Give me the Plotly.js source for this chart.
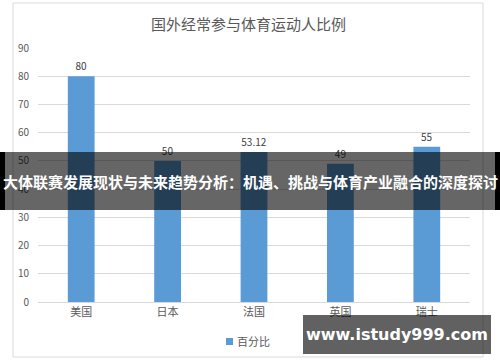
<!DOCTYPE html>
<html><head><meta charset="utf-8">
<script src="https://cdn.plot.ly/plotly-3.0.1.min.js"></script>
<style>html,body{margin:0;padding:0;background:#fff;}#c{width:500px;height:362px;}</style>
</head><body><div id="c"></div>
<script>
const categories = ["美国","日本","法国","英国","瑞士"];
const values = [80, 50, 53.12, 49, 55];
const valueLabels = ["80","50","53.12","49","55"];
const seriesName = "百分比";
const chartTitle = "国外经常参与体育运动人比例";
const bannerText = "大体联赛发展现状与未来趋势分析：机遇、挑战与体育产业融合的深度探讨";
const watermarkText = "www.istudy999.com";

const W = 500, H = 362;
const M = {l: 38, r: 30, t: 48, b: 60};
const pw = W - M.l - M.r, ph = H - M.t - M.b;
const px = x => (x - M.l) / pw;
const py = y => (H - M.b - y) / ph;
const font = "'Noto Sans CJK SC', 'Noto Sans', sans-serif";

const trace = {
  type: 'bar', x: categories, y: values, name: seriesName,
  marker: {color: '#5B9BD5'},
  text: valueLabels, textposition: 'outside', cliponaxis: false,
  textfont: {size: 10, color: '#404040', family: font},
  hoverinfo: 'none'
};

const layout = {
  width: W, height: H, margin: M,
  paper_bgcolor: '#fff', plot_bgcolor: '#fff',
  showlegend: false, bargap: 0.69,
  font: {family: font, color: '#595959'},
  xaxis: {showgrid: false, showline: true, linecolor: '#D9D9D9', linewidth: 1,
    ticks: '', tickfont: {size: 11, color: '#595959'}, fixedrange: true},
  yaxis: {range: [0, 90], dtick: 10, showgrid: true, gridcolor: '#D9D9D9', gridwidth: 1,
    zeroline: false, showline: false, ticks: '', tickfont: {size: 10, color: '#595959'},
    ticklabelstandoff: 8, fixedrange: true},
  shapes: [
    {type: 'rect', xref: 'paper', yref: 'paper', x0: px(13), x1: px(483), y0: py(3), y1: py(357),
      line: {color: '#D9D9D9', width: 1}, fillcolor: 'rgba(0,0,0,0)', layer: 'below'},
    {type: 'rect', xref: 'paper', yref: 'paper', x0: px(226), x1: px(233), y0: py(338), y1: py(345),
      line: {width: 0}, fillcolor: '#5B9BD5'},
    {type: 'rect', xref: 'paper', yref: 'paper', x0: px(0), x1: px(500), y0: py(152), y1: py(210),
      line: {width: 0}, fillcolor: 'rgba(0,0,0,0.6)', layer: 'above'},
    {type: 'rect', xref: 'paper', yref: 'paper', x0: px(0), x1: px(5), y0: py(152), y1: py(210),
      line: {width: 0}, fillcolor: '#000', layer: 'above'},
    {type: 'rect', xref: 'paper', yref: 'paper', x0: px(495), x1: px(500), y0: py(152), y1: py(210),
      line: {width: 0}, fillcolor: '#000', layer: 'above'},
    {type: 'rect', xref: 'paper', yref: 'paper', x0: px(303), x1: px(491), y0: py(315), y1: py(354),
      line: {width: 0}, fillcolor: 'rgba(0,0,0,0.62)', layer: 'above'}
  ],
  annotations: [
    {text: chartTitle, xref: 'paper', yref: 'paper', x: px(248), y: py(24), showarrow: false,
      xanchor: 'center', yanchor: 'middle', font: {size: 15, color: '#595959', family: font}},
    {text: seriesName, xref: 'paper', yref: 'paper', x: px(235), y: py(341), showarrow: false,
      xanchor: 'left', yanchor: 'middle', font: {size: 11, color: '#595959', family: font}},
    {text: '<b>' + bannerText + '</b>', xref: 'paper', yref: 'paper', x: px(250), y: py(181), showarrow: false,
      xanchor: 'center', yanchor: 'middle', font: {size: 15, color: '#fff', family: font}},
    {text: '<b>' + watermarkText + '</b>', xref: 'paper', yref: 'paper', x: px(397), y: py(334), showarrow: false,
      xanchor: 'center', yanchor: 'middle', font: {size: 16, color: '#fff', family: "'DejaVu Sans', sans-serif"}}
  ]
};
Plotly.newPlot('c', [trace], layout, {staticPlot: true, displayModeBar: false});
</script></body></html>
